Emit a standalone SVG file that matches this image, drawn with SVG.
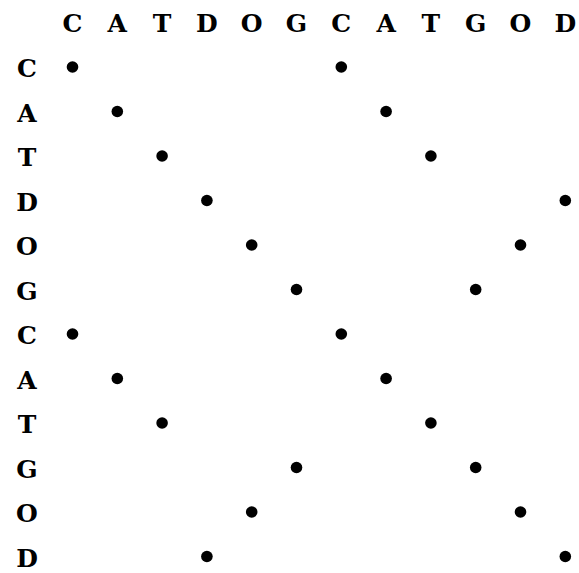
<svg xmlns="http://www.w3.org/2000/svg" width="579" height="573" viewBox="0 0 579 573">
  <style>
    .lbl { font-family: "DejaVu Serif", "Liberation Serif", serif; font-weight: bold; font-size: 25px; fill: #000; text-anchor: middle; }
    .dot { fill: #000; }
  </style>
  <rect width="579" height="573" fill="#fff"/>
  <!-- column headers -->
  <g id="columns">
    <text class="lbl" x="72.5" y="32">C</text>
    <text class="lbl" x="117.3" y="32">A</text>
    <text class="lbl" x="162.1" y="32">T</text>
    <text class="lbl" x="206.9" y="32">D</text>
    <text class="lbl" x="251.7" y="32">O</text>
    <text class="lbl" x="296.5" y="32">G</text>
    <text class="lbl" x="341.3" y="32">C</text>
    <text class="lbl" x="386.1" y="32">A</text>
    <text class="lbl" x="430.9" y="32">T</text>
    <text class="lbl" x="475.7" y="32">G</text>
    <text class="lbl" x="520.5" y="32">O</text>
    <text class="lbl" x="565.3" y="32">D</text>
  </g>
  <!-- row headers -->
  <g id="rows">
    <text class="lbl" x="27" y="77">C</text>
    <text class="lbl" x="27" y="121.5">A</text>
    <text class="lbl" x="27" y="166">T</text>
    <text class="lbl" x="27" y="210.5">D</text>
    <text class="lbl" x="27" y="255">O</text>
    <text class="lbl" x="27" y="299.5">G</text>
    <text class="lbl" x="27" y="344">C</text>
    <text class="lbl" x="27" y="388.5">A</text>
    <text class="lbl" x="27" y="433">T</text>
    <text class="lbl" x="27" y="477.5">G</text>
    <text class="lbl" x="27" y="522">O</text>
    <text class="lbl" x="27" y="566.5">D</text>
  </g>
  <!-- matches -->
  <g id="dots">
    <circle class="dot" cx="72.5" cy="67" r="5.8"/>
    <circle class="dot" cx="341.3" cy="67" r="5.8"/>
    <circle class="dot" cx="117.3" cy="111.5" r="5.8"/>
    <circle class="dot" cx="386.1" cy="111.5" r="5.8"/>
    <circle class="dot" cx="162.1" cy="156" r="5.8"/>
    <circle class="dot" cx="430.9" cy="156" r="5.8"/>
    <circle class="dot" cx="206.9" cy="200.5" r="5.8"/>
    <circle class="dot" cx="565.3" cy="200.5" r="5.8"/>
    <circle class="dot" cx="251.7" cy="245" r="5.8"/>
    <circle class="dot" cx="520.5" cy="245" r="5.8"/>
    <circle class="dot" cx="296.5" cy="289.5" r="5.8"/>
    <circle class="dot" cx="475.7" cy="289.5" r="5.8"/>
    <circle class="dot" cx="72.5" cy="334" r="5.8"/>
    <circle class="dot" cx="341.3" cy="334" r="5.8"/>
    <circle class="dot" cx="117.3" cy="378.5" r="5.8"/>
    <circle class="dot" cx="386.1" cy="378.5" r="5.8"/>
    <circle class="dot" cx="162.1" cy="423" r="5.8"/>
    <circle class="dot" cx="430.9" cy="423" r="5.8"/>
    <circle class="dot" cx="296.5" cy="467.5" r="5.8"/>
    <circle class="dot" cx="475.7" cy="467.5" r="5.8"/>
    <circle class="dot" cx="251.7" cy="512" r="5.8"/>
    <circle class="dot" cx="520.5" cy="512" r="5.8"/>
    <circle class="dot" cx="206.9" cy="556.5" r="5.8"/>
    <circle class="dot" cx="565.3" cy="556.5" r="5.8"/>
  </g>
</svg>
